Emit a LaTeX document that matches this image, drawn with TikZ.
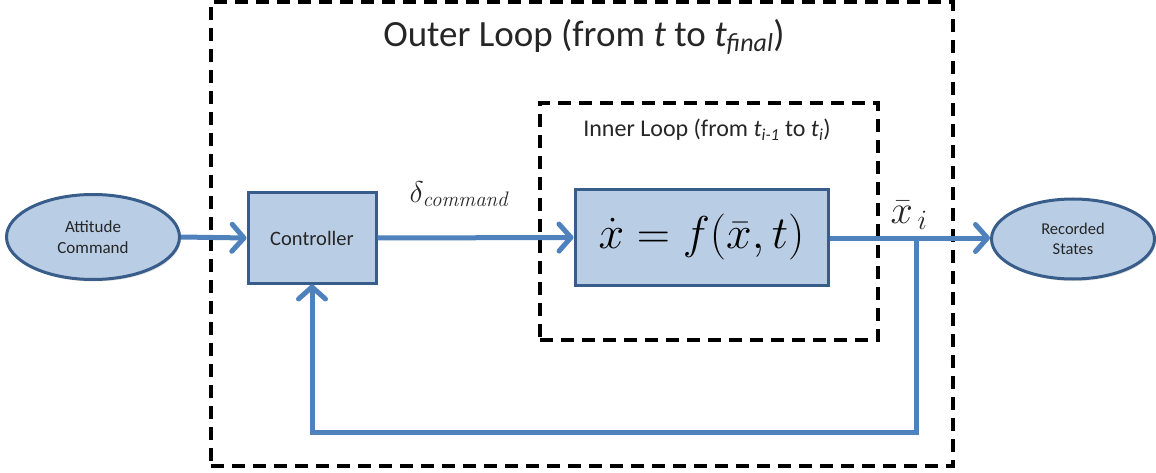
\RequirePackage{fix-cm}
\documentclass[tikz,border=0pt]{standalone}
\usepackage[no-math]{fontspec}
\setmainfont{Carlito}
\usetikzlibrary{arrows.meta,shadows,shapes.geometric}
\definecolor{boxfill}{HTML}{B9CDE5}
\definecolor{boxline}{HTML}{385D8A}
\definecolor{flowc}{HTML}{4F81BD}
\definecolor{txt}{HTML}{262626}
\tikzset{
  blockbox/.style={rectangle, draw=boxline, fill=boxfill, line width=3pt, inner sep=0pt,
    drop shadow={shadow xshift=1.5pt, shadow yshift=-2pt, opacity=0.25}},
  ovalbox/.style={ellipse, draw=boxline, fill=boxfill, line width=3pt, inner sep=0pt,
    align=center, text=txt,
    drop shadow={shadow xshift=1.5pt, shadow yshift=-2pt, opacity=0.25}},
  loopbox/.style={rectangle, draw=black, dash pattern=on 13pt off 8pt, inner sep=0pt},
  flow/.style={draw=flowc, line width=5pt},
  flowarrow/.style={flow, -{Straight Barb[length=12pt,width=27pt,round]}},
  lbl/.style={text=txt, inner sep=0pt}
}
\begin{document}
\begin{tikzpicture}[x=1pt,y=-1pt]
\useasboundingbox (0,0) rectangle (1156,473);
% loop frames
\node[loopbox, line width=4pt, minimum width=742pt, minimum height=464pt] (outer) at (582,234) {};
\node[loopbox, line width=3.5pt, minimum width=338pt, minimum height=237pt] (inner) at (709,221.5) {};
\node[lbl, font=\fontsize{37}{42}\selectfont] (outertitle) at (584,37)
  {Outer Loop (from \textit{t} to \textit{t}\textsubscript{\textit{final}})};
\node[lbl, font=\fontsize{24}{28}\selectfont] (innertitle) at (707,130)
  {Inner Loop (from \textit{t}\textsubscript{\textit{i-1}} to \textit{t}\textsubscript{\textit{i}})};
% blocks
\node[ovalbox, minimum width=173pt, minimum height=85pt, font=\fontsize{17}{21}\selectfont] (att) at (93,237) {Attitude\\Command};
\node[blockbox, minimum width=128pt, minimum height=90pt, text=txt, font=\fontsize{20.5}{24}\selectfont] (ctrl) at (312,238) {Controller};
\node[blockbox, minimum width=253pt, minimum height=95pt, text=black] (eq) at (701.5,237.5)
  {\fontsize{46}{50}\selectfont$\dot{x} = f(\bar{x},t)$};
\node[ovalbox, minimum width=163pt, minimum height=80pt, font=\fontsize{16.5}{20}\selectfont] (rec) at (1073,239) {Recorded\\States};
% labels
\node[lbl] (dlabel) at (460,194) {\fontsize{30}{34}\selectfont$\delta_{\mathit{command}}$};
\node[lbl] (xlabel) at (909,215) {\fontsize{40}{44}\selectfont$\bar{x}_{\,i}$};
% connectors
\coordinate (br) at (916,238);
\coordinate (fb) at (916,432);
\draw[flowarrow] (att.east) -- (ctrl.west);
\draw[flowarrow] (ctrl.east) -- (eq.west);
\draw[flowarrow] (eq.east |- br) -- (rec.west |- br);
\draw[flowarrow] (br) -- (fb) -| (ctrl.south);
\end{tikzpicture}
\end{document}
